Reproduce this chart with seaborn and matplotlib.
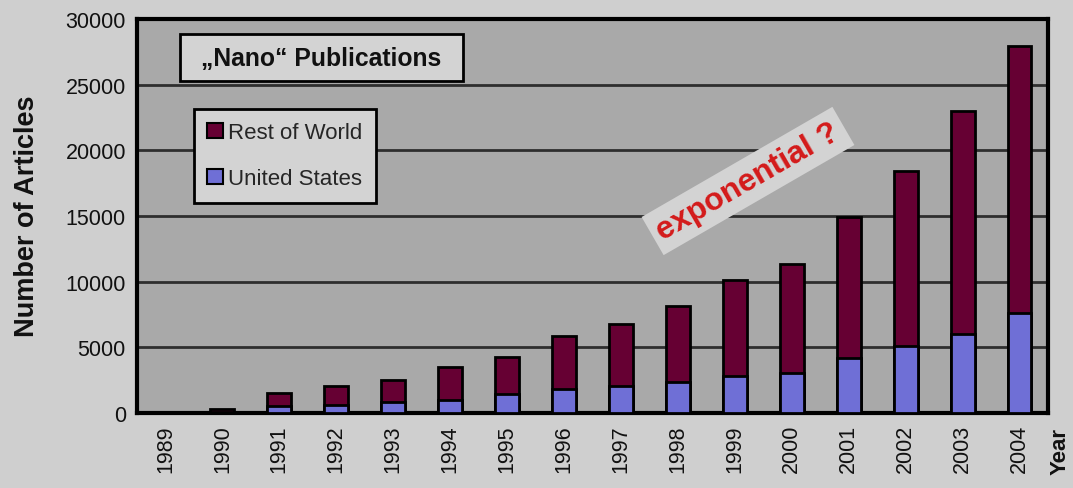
import matplotlib
matplotlib.use("Agg")
import matplotlib.pyplot as plt
from matplotlib.patches import Patch, Rectangle
import numpy as np
import pandas as pd
import seaborn as sns

# Nano publications per year, split into United States and the rest of the world
years = ["1989", "1990", "1991", "1992", "1993", "1994", "1995", "1996",
         "1997", "1998", "1999", "2000", "2001", "2002", "2003", "2004"]
united_states = [0, 100, 560, 620, 860, 990, 1420, 1830,
                 2030, 2380, 2790, 3040, 4160, 5120, 6010, 7590]
rest_of_world = [0, 200, 940, 1460, 1650, 2490, 2820, 4010,
                 4740, 5790, 7360, 8300, 10730, 13320, 16990, 20360]
y_ticks = [0, 5000, 10000, 15000, 20000, 25000, 30000]

df = pd.DataFrame({"year": years, "us": united_states, "row": rest_of_world})
df["total"] = df["us"] + df["row"]

FIG_BG = "#cfcfcf"
PLOT_BG = "#a9a9a9"
BOX_BG = "#d3d3d3"
ROW_COLOR = "#660033"
US_COLOR = "#6f6fd6"
FONT = "Liberation Sans"

sns.set_style("white")
plt.rcParams["font.family"] = [FONT, "DejaVu Sans"]

W, H = 1073, 489
fig = plt.figure(figsize=(W / 100, H / 100), dpi=100, facecolor=FIG_BG)
ax = fig.add_axes([137 / W, 1 - 414 / H, 911 / W, 394 / H])
ax.set_facecolor(PLOT_BG)

# stacked bars: full total in maroon, US share drawn on top from the baseline
bar_kw = dict(width=0.42, edgecolor="black", linewidth=2, saturation=1, ax=ax, zorder=3)
sns.barplot(data=df, x="year", y="total", color=ROW_COLOR, **bar_kw)
sns.barplot(data=df, x="year", y="us", color=US_COLOR, **bar_kw)
for p in ax.patches:
    if p.get_height() == 0:
        p.set_linewidth(0)

ax.set_xlim(-0.5, len(years) - 0.5)
ax.set_ylim(0, 30000)
ax.set_yticks(y_ticks)
ax.set_yticklabels([str(v) for v in y_ticks])
for v in y_ticks[1:-1]:
    ax.axhline(v, color="#2e2e2e", linewidth=2, zorder=1)

ax.set_xlabel("")
ax.set_ylabel("")
ax.set_xticks(np.arange(-0.5, len(years), 1.0), minor=True)
ax.tick_params(axis="x", which="major", length=0, labelsize=15.5, rotation=90, pad=8)
ax.tick_params(axis="x", which="minor", length=6, width=2, color="black", direction="out")
ax.tick_params(axis="y", length=6, width=2, color="black", direction="out", labelsize=15.5, pad=2)
for lab in ax.get_xticklabels() + ax.get_yticklabels():
    lab.set_color("#111111")

for side in ["left", "bottom", "right", "top"]:
    ax.spines[side].set_visible(True)
    ax.spines[side].set_color("black")
    ax.spines[side].set_linewidth(3)

fig.text(27 / W, 1 - 216 / H, "Number of Articles", rotation=90, ha="center", va="center",
         fontsize=19.5, fontweight="bold", color="#111111")
fig.text(1060 / W, 1 - 428 / H, "Year", rotation=90, ha="center", va="top",
         fontsize=16, fontweight="bold", color="#111111")

# title box
fig.add_artist(Rectangle((180 / W, 1 - 82 / H), 283 / W, 47 / H, transform=fig.transFigure,
                         facecolor=BOX_BG, edgecolor="black", linewidth=2, zorder=5))
fig.text(321.5 / W, 1 - 59 / H, "\u201eNano\u201c Publications", ha="center", va="center",
         fontsize=17.8, fontweight="bold", color="#111111", zorder=6)

# legend
handles = [Patch(facecolor=ROW_COLOR, edgecolor="black", linewidth=1.5, label="Rest of World"),
           Patch(facecolor=US_COLOR, edgecolor="black", linewidth=1.5, label="United States")]
leg = ax.legend(handles=handles, loc="upper left", bbox_to_anchor=(194 / W, 1 - 110 / H),
                bbox_transform=fig.transFigure, fontsize=16, frameon=True, fancybox=False,
                facecolor=BOX_BG, edgecolor="black", framealpha=1, handlelength=0.7,
                handleheight=0.7, handletextpad=0.25, labelspacing=1.12, borderpad=0.6,
                borderaxespad=0)
leg.get_frame().set_linewidth(2)
leg.set_zorder(6)

# annotation
fig.text(748 / W, 1 - 182 / H, "exponential ?", rotation=30, rotation_mode="anchor",
         ha="center", va="center", fontsize=23, fontweight="bold", color="#d41a1a",
         bbox=dict(facecolor=BOX_BG, edgecolor="none", pad=5), zorder=6)

fig.savefig("out.png", dpi=100, facecolor=FIG_BG)
